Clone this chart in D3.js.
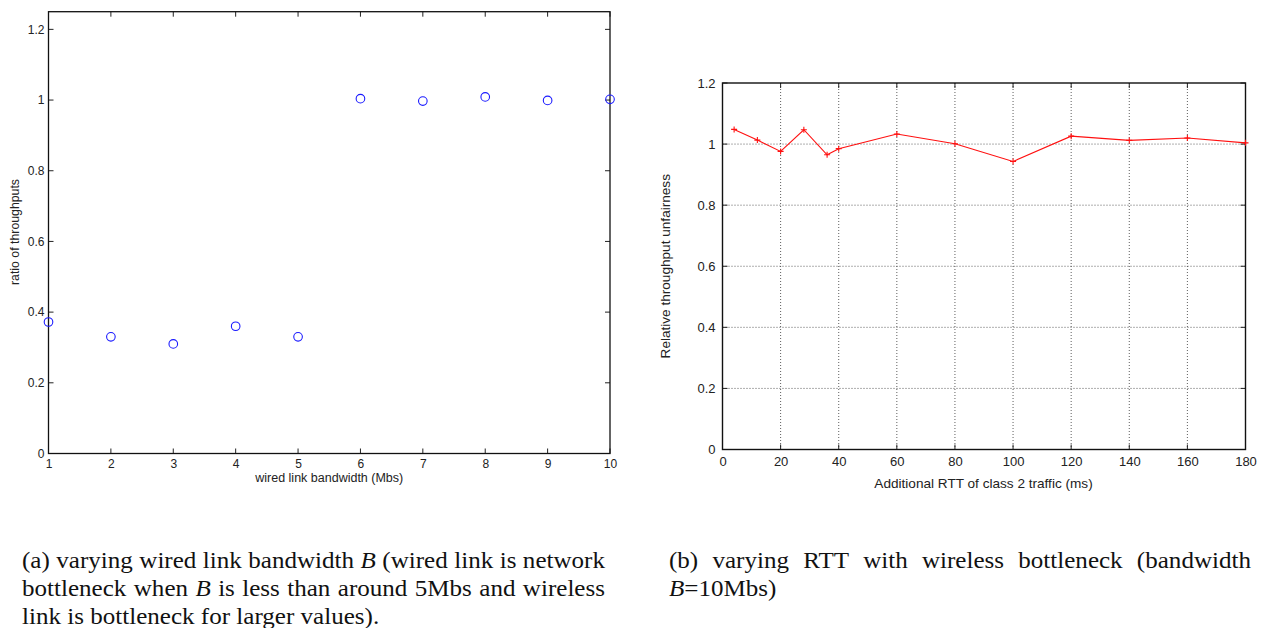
<!DOCTYPE html>
<html>
<head>
<meta charset="utf-8">
<script src="https://cdn.jsdelivr.net/npm/d3@7"></script>
<style>
  html, body { margin: 0; padding: 0; background: #fff; }
  svg { display: block; }
</style>
</head>
<body>
<svg id="fig" width="1270" height="628"></svg>
<script>
// ---- panel (a): ratio of throughputs vs wired link bandwidth ----
const bandwidthMbs = [1, 2, 3, 4, 5, 6, 7, 8, 9, 10];
const throughputRatio = [0.372, 0.33, 0.31, 0.36, 0.33, 1.004, 0.997, 1.009, 0.999, 1.002];
const xTicksA = [1, 2, 3, 4, 5, 6, 7, 8, 9, 10];
const yTicksA = [0, 0.2, 0.4, 0.6, 0.8, 1, 1.2];

// ---- panel (b): relative throughput unfairness vs additional RTT ----
const extraRttMs = [4, 12, 20, 28, 36, 40, 60, 80, 100, 120, 140, 160, 180];
const unfairness = [1.048, 1.013, 0.976, 1.047, 0.965, 0.985, 1.033, 1.001, 0.943, 1.026, 1.012, 1.02, 1.004];
const xTicksB = [0, 20, 40, 60, 80, 100, 120, 140, 160, 180];
const yTicksB = [0, 0.2, 0.4, 0.6, 0.8, 1, 1.2];

// ---- captions: each line is a list of words, each word a list of [text, italic] pieces ----
const captionA = [
  [[["(a)"]], [["varying"]], [["wired"]], [["link"]], [["bandwidth"]], [["B", true]], [["(wired"]], [["link"]], [["is"]], [["network"]]],
  [[["bottleneck"]], [["when"]], [["B", true]], [["is"]], [["less"]], [["than"]], [["around"]], [["5Mbs"]], [["and"]], [["wireless"]]],
  [[["link"]], [["is"]], [["bottleneck"]], [["for"]], [["larger"]], [["values)."]]]
];
const captionB = [
  [[["(b)"]], [["varying"]], [["RTT"]], [["with"]], [["wireless"]], [["bottleneck"]], [["(bandwidth"]]],
  [[["B", true], ["=10Mbs)"]]]
];

const svg = d3.select("#fig");
svg.append("rect").attr("width", 1270).attr("height", 628).attr("fill", "#fff");

const sans = "'Liberation Sans', Arial, Helvetica, sans-serif";
const serif = "'Liberation Serif', 'Times New Roman', Times, serif";

// ================= panel (a) =================
{
  const L = 48.5, R = 610, T = 11.7, B = 453.5;
  const x = d3.scaleLinear().domain([1, 10]).range([L, R]);
  const y = d3.scaleLinear().domain([0, 1.25]).range([B, T]);
  const g = svg.append("g");
  const tick = 5;

  // inward ticks on all four sides
  const axBottom = d3.axisBottom(x).tickValues(xTicksA).tickSize(0).tickPadding(6).tickFormat(d3.format("d"));
  const axLeft = d3.axisLeft(y).tickValues(yTicksA).tickSize(0).tickPadding(4).tickFormat(d => d === 0 ? "0" : d3.format("~g")(d));

  const gb = g.append("g").attr("transform", `translate(0,${B})`).call(axBottom);
  const gl = g.append("g").attr("transform", `translate(${L},0)`).call(axLeft);
  [gb, gl].forEach(a => {
    a.select(".domain").remove();
    a.selectAll("text").attr("font-family", sans).attr("font-size", 12).attr("fill", "#222");
  });

  const tk = g.append("g").attr("stroke", "#222").attr("stroke-width", 1);
  xTicksA.forEach(v => {
    tk.append("line").attr("x1", x(v)).attr("x2", x(v)).attr("y1", B).attr("y2", B - tick);
    tk.append("line").attr("x1", x(v)).attr("x2", x(v)).attr("y1", T).attr("y2", T + tick);
  });
  yTicksA.forEach(v => {
    tk.append("line").attr("x1", L).attr("x2", L + tick).attr("y1", y(v)).attr("y2", y(v));
    tk.append("line").attr("x1", R).attr("x2", R - tick).attr("y1", y(v)).attr("y2", y(v));
  });

  g.append("rect").attr("x", L).attr("y", T).attr("width", R - L).attr("height", B - T)
    .attr("fill", "none").attr("stroke", "#111").attr("stroke-width", 1.3);

  g.append("g").selectAll("circle")
    .data(bandwidthMbs.map((b, i) => [b, throughputRatio[i]]))
    .join("circle")
    .attr("cx", d => x(d[0])).attr("cy", d => y(d[1])).attr("r", 4.3)
    .attr("fill", "none").attr("stroke", "#1a1aff").attr("stroke-width", 1.1);

  g.append("text").attr("x", (L + R) / 2).attr("y", 482).attr("text-anchor", "middle")
    .attr("font-family", sans).attr("font-size", 12.5).attr("fill", "#222")
    .text("wired link bandwidth (Mbs)");
  g.append("text").attr("transform", `translate(19,${(T + B) / 2})`).attr("text-anchor", "middle")
    .attr("transform", `translate(19,232) rotate(-90)`)
    .attr("font-family", sans).attr("font-size", 12.3).attr("fill", "#222")
    .text("ratio of throughputs");
}

// ================= panel (b) =================
{
  const L = 722.5, R = 1245.5, T = 83, B = 449.5;
  const x = d3.scaleLinear().domain([0, 180]).range([L, R]);
  const y = d3.scaleLinear().domain([0, 1.2]).range([B, T]);
  const g = svg.append("g");
  const tick = 5;

  // dotted grid
  const grid = g.append("g").attr("stroke", "#333").attr("stroke-width", 0.8).attr("stroke-dasharray", "1,2");
  xTicksB.slice(1, -1).forEach(v => grid.append("line").attr("x1", x(v)).attr("x2", x(v)).attr("y1", T).attr("y2", B));
  yTicksB.slice(1, -1).forEach(v => grid.append("line").attr("x1", L).attr("x2", R).attr("y1", y(v)).attr("y2", y(v)));

  const axBottom = d3.axisBottom(x).tickValues(xTicksB).tickSize(0).tickPadding(7).tickFormat(d3.format("d"));
  const axLeft = d3.axisLeft(y).tickValues(yTicksB).tickSize(0).tickPadding(7).tickFormat(d => d3.format("~g")(d));
  const gb = g.append("g").attr("transform", `translate(0,${B})`).call(axBottom);
  const gl = g.append("g").attr("transform", `translate(${L},0)`).call(axLeft);
  [gb, gl].forEach(a => {
    a.select(".domain").remove();
    a.selectAll("text").attr("font-family", sans).attr("font-size", 13).attr("fill", "#222");
  });

  const tk = g.append("g").attr("stroke", "#222").attr("stroke-width", 1);
  xTicksB.forEach(v => {
    tk.append("line").attr("x1", x(v)).attr("x2", x(v)).attr("y1", B).attr("y2", B - tick);
    tk.append("line").attr("x1", x(v)).attr("x2", x(v)).attr("y1", T).attr("y2", T + tick);
  });
  yTicksB.forEach(v => {
    tk.append("line").attr("x1", L).attr("x2", L + tick).attr("y1", y(v)).attr("y2", y(v));
    tk.append("line").attr("x1", R).attr("x2", R - tick).attr("y1", y(v)).attr("y2", y(v));
  });

  g.append("rect").attr("x", L).attr("y", T).attr("width", R - L).attr("height", B - T)
    .attr("fill", "none").attr("stroke", "#111").attr("stroke-width", 1.4);

  const pts = extraRttMs.map((r, i) => [r, unfairness[i]]);
  g.append("path").datum(pts)
    .attr("d", d3.line().x(d => x(d[0])).y(d => y(d[1])))
    .attr("fill", "none").attr("stroke", "#ff1010").attr("stroke-width", 1.1);
  const m = 3;
  g.append("g").attr("stroke", "#ff1010").attr("stroke-width", 1.1)
    .selectAll("path").data(pts).join("path")
    .attr("d", d => `M${x(d[0]) - m},${y(d[1])}H${x(d[0]) + m}M${x(d[0])},${y(d[1]) - m}V${y(d[1]) + m}`);

  g.append("text").attr("x", (L + R) / 2 - 0.5).attr("y", 488).attr("text-anchor", "middle")
    .attr("font-family", sans).attr("font-size", 13.6).attr("fill", "#222")
    .text("Additional RTT of class 2 traffic (ms)");
  g.append("text").attr("transform", `translate(670,${(T + B) / 2}) rotate(-90)`).attr("text-anchor", "middle")
    .attr("font-family", sans).attr("font-size", 13.6).attr("fill", "#222")
    .text("Relative throughput unfairness");
}

// ================= captions (justified serif text) =================
function drawCaption(lines, x0, x1, y0, lh, sx) {
  const width = (x1 - x0) / sx;
  const g = svg.append("g").attr("transform", `translate(${x0},0) scale(${sx},1)`)
    .attr("font-family", serif).attr("font-size", 23).attr("fill", "#111");
  const measure = (word) => {
    const t = g.append("text").attr("x", -9999).attr("y", -9999);
    word.forEach(([s, it]) => t.append("tspan").attr("font-style", it ? "italic" : "normal").text(s));
    const w = t.node().getComputedTextLength();
    t.remove();
    return w;
  };
  const spaceW = (() => {
    const t = g.append("text").attr("x", -9999).attr("y", -9999).text("a a");
    const t2 = g.append("text").attr("x", -9999).attr("y", -9999).text("aa");
    const w = t.node().getComputedTextLength() - t2.node().getComputedTextLength();
    t.remove(); t2.remove();
    return w;
  })();
  lines.forEach((words, li) => {
    const widths = words.map(measure);
    const total = d3.sum(widths);
    const last = li === lines.length - 1;
    const gap = (!last && words.length > 1) ? (width - total) / (words.length - 1) : spaceW;
    let cx = 0;
    words.forEach((word, wi) => {
      const t = g.append("text").attr("x", cx).attr("y", y0 + li * lh);
      word.forEach(([s, it]) => t.append("tspan").attr("font-style", it ? "italic" : "normal").text(s));
      cx += widths[wi] + gap;
    });
  });
}
drawCaption(captionA, 22, 605, 568, 28, 1.09);
drawCaption(captionB, 669, 1251, 568, 28, 1.09);
</script>
</body>
</html>
